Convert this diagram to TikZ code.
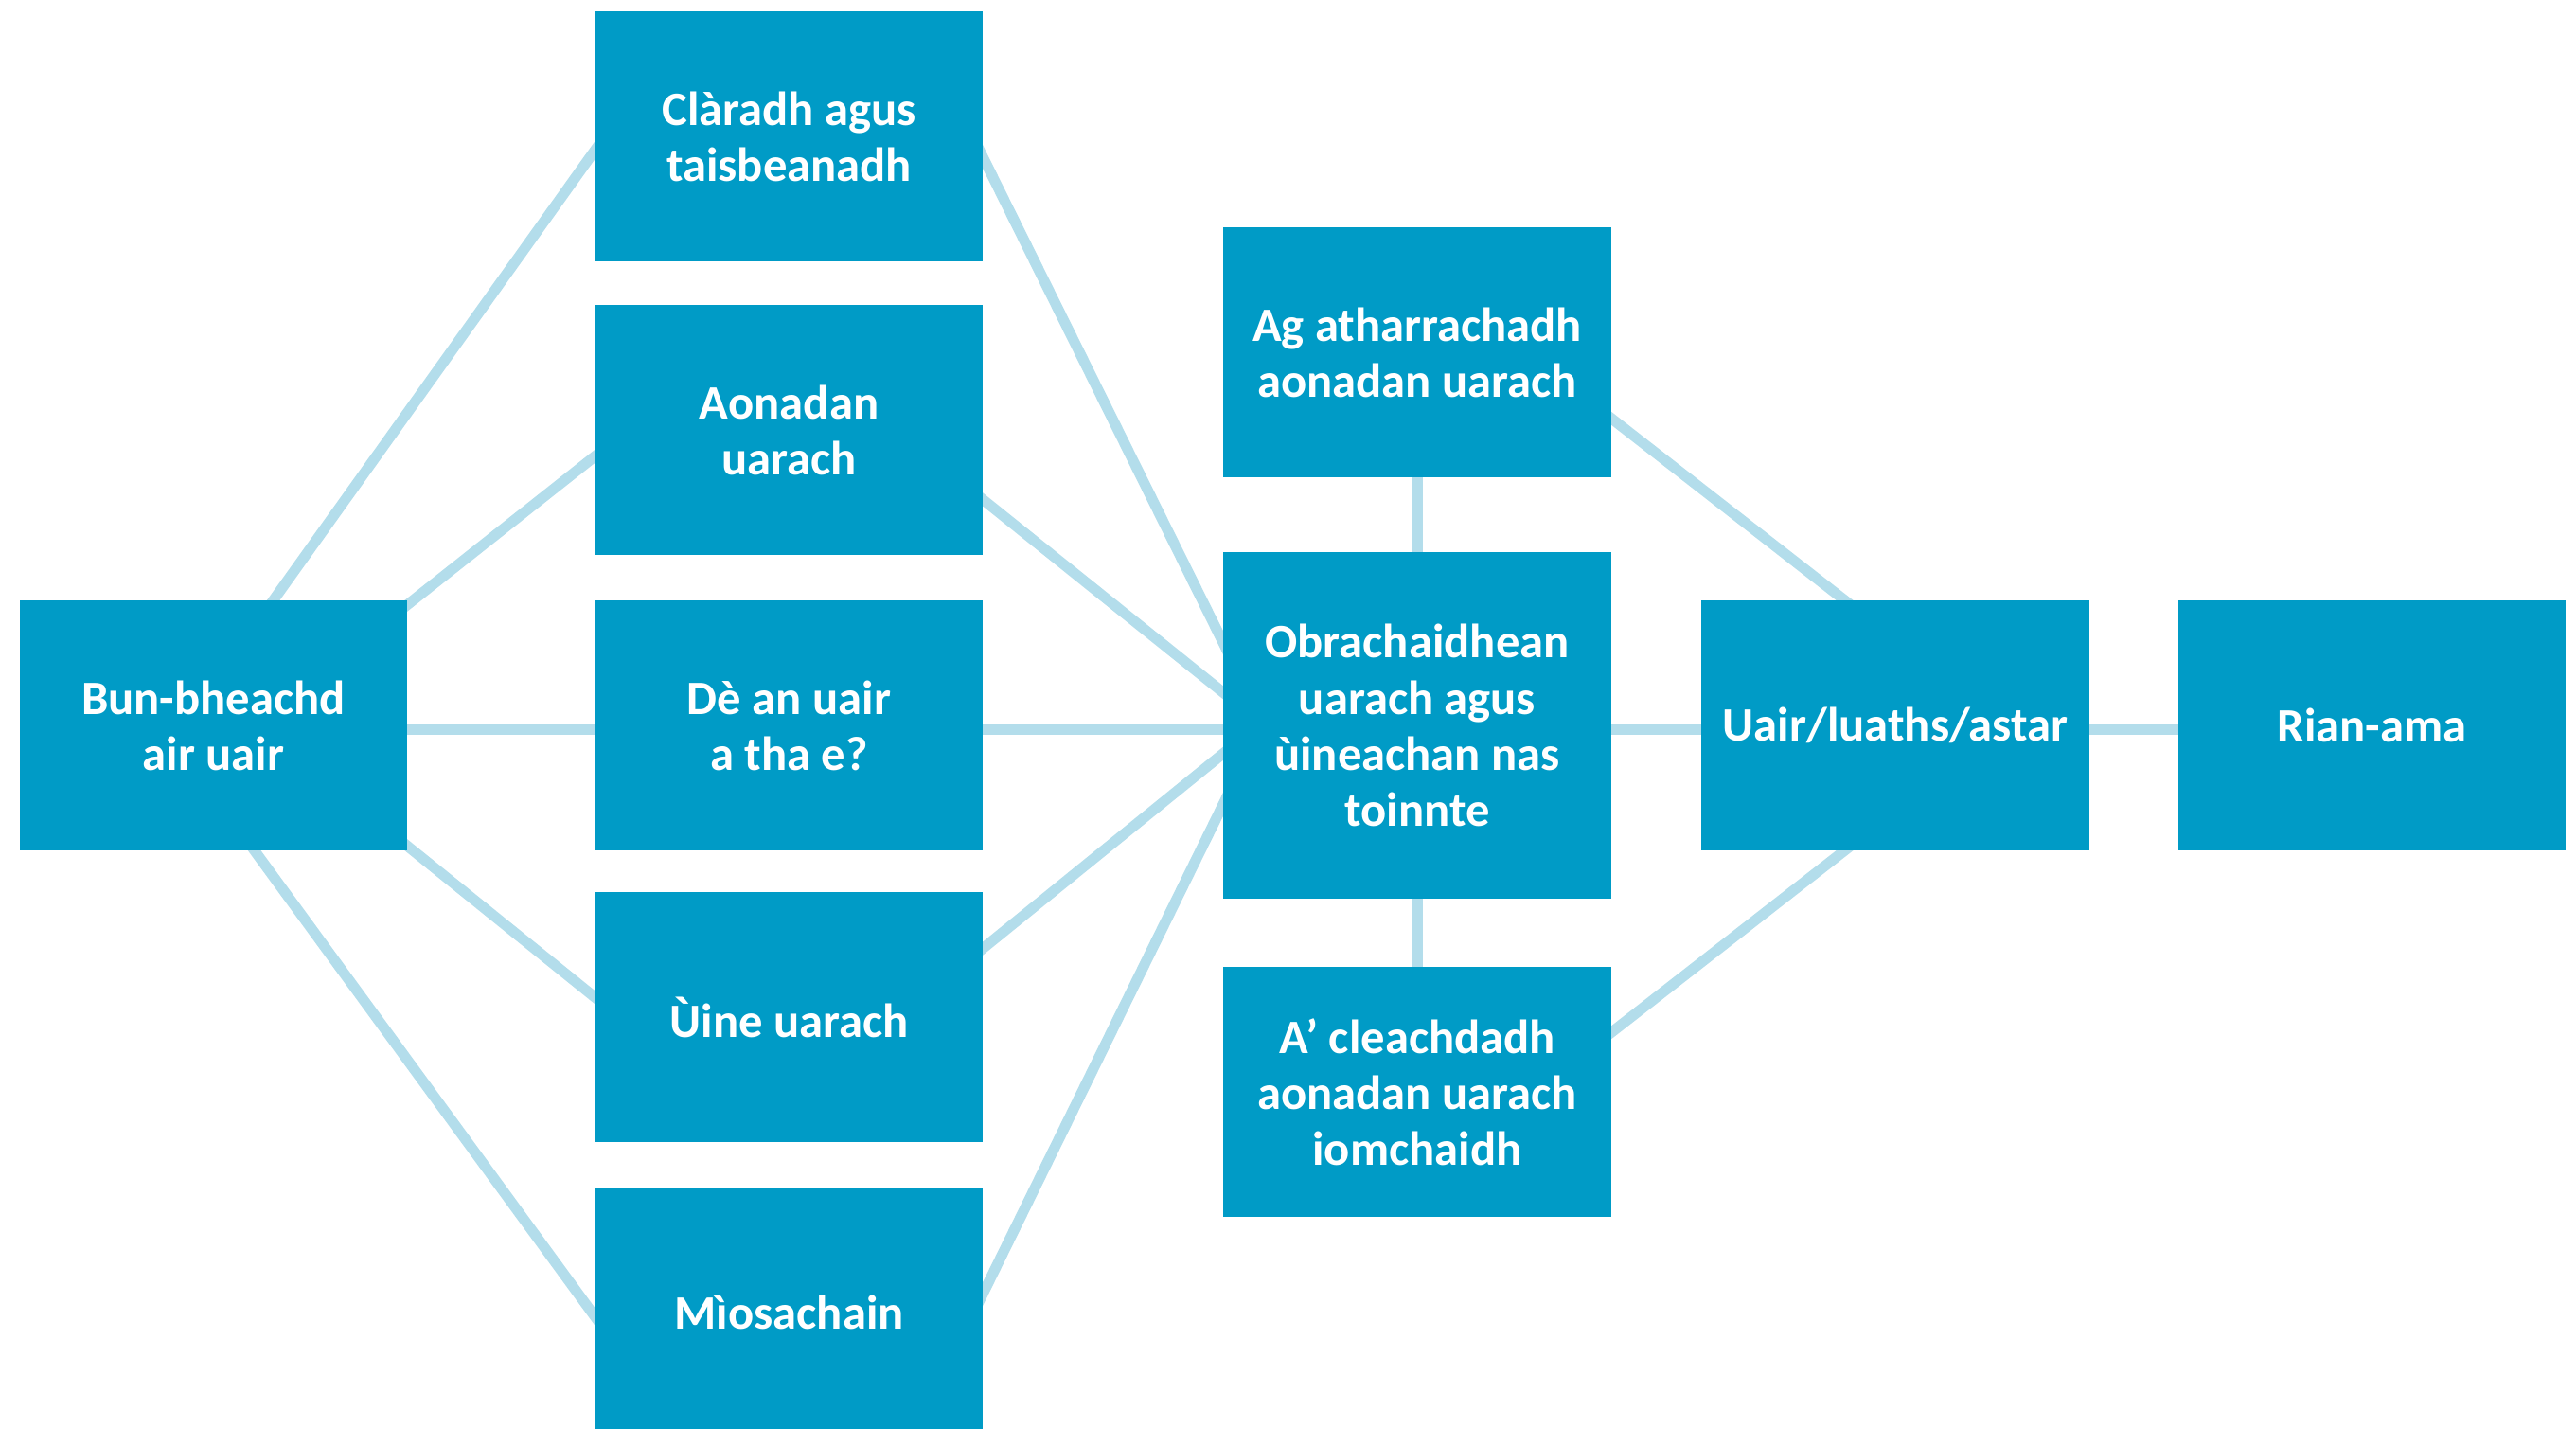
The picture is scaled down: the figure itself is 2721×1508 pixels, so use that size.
\documentclass[tikz,border=0pt]{standalone}
\usepackage{fontspec}
\setmainfont{Carlito}
\usetikzlibrary{backgrounds,calc}
\definecolor{boxblue}{HTML}{009BC6}
\definecolor{linkblue}{HTML}{B3DDEB}
\tikzset{
  box/.style={fill=boxblue, text=white, minimum width=4.09cm, minimum height=2.64cm,
    inner sep=0pt, align=center, font=\bfseries\fontsize{14.4}{16.8}\selectfont},
  tallbox/.style={box, minimum height=3.65cm},
  link/.style={draw=linkblue, line width=0.11cm, shorten <=-0.15cm, shorten >=-0.15cm},
}
\begin{document}
\begin{tikzpicture}[x=0.01cm, y=-0.01cm]
\useasboundingbox (0,0) rectangle (2721,1508);
% nodes
\node[box] (bun) at (225.5,766) {Bun-bheachd\\air uair};
\node[box] (c1) at (833.5,144) {Clàradh agus\\taisbeanadh};
\node[box] (c2) at (833.5,454) {Aonadan\\uarach};
\node[box] (c3) at (833.5,766) {Dè an uair\\a tha e?};
\node[box] (c4) at (833.5,1074) {Ùine uarach};
\node[box] (c5) at (833.5,1386) {Mìosachain};
\node[box] (ag) at (1497,372) {Ag atharrachadh\\aonadan uarach};
\node[tallbox] (obr) at (1497,766) {Obrachaidhean\\uarach agus\\ùineachan nas\\toinnte};
\node[box] (ap) at (1497,1153) {A’ cleachdadh\\aonadan uarach\\iomchaidh};
\node[box] (uair) at (2002,766) {Uair/luaths/astar};
\node[box] (rian) at (2505.5,766) {Rian-ama};
% connectors
\begin{scope}[on background layer]
\fill[white] (0,0) rectangle (2721,1508);
\draw[link] ($(bun.north west)+(269,0)$) -- ($(c1.west)+(0,15)$);
\draw[link] ($(bun.north east)+(0,5)$) -- ($(c2.west)+(0,28)$);
\draw[link] ($(bun.east)+(0,4)$) -- ($(c3.west)+(0,4)$);
\draw[link] ($(bun.south east)+(0,-5)$) -- ($(c4.west)+(0,-21)$);
\draw[link] ($(bun.south west)+(249,0)$) -- ($(c5.west)+(0,4)$);
\draw[link] ($(c1.east)+(0,23)$) -- ($(obr.west)+(0,-88)$);
\draw[link] ($(c2.east)+(0,74)$) -- ($(obr.west)+(0,-35)$);
\draw[link] ($(c3.east)+(0,4)$) -- ($(obr.west)+(0,4)$);
\draw[link] ($(c4.east)+(0,-73)$) -- ($(obr.west)+(0,30)$);
\draw[link] ($(c5.east)+(0,-21)$) -- ($(obr.west)+(0,84)$);
\draw[link] (ag.south) -- (obr.north);
\draw[link] (obr.south) -- (ap.north);
\draw[link] ($(ag.east)+(0,70)$) -- ($(uair.north west)+(151,0)$);
\draw[link] ($(obr.east)+(0,4)$) -- ($(uair.west)+(0,4)$);
\draw[link] ($(ap.east)+(0,-63)$) -- ($(uair.south west)+(151,0)$);
\draw[link] ($(uair.east)+(0,4)$) -- ($(rian.west)+(0,4)$);
\end{scope}
\end{tikzpicture}
\end{document}
